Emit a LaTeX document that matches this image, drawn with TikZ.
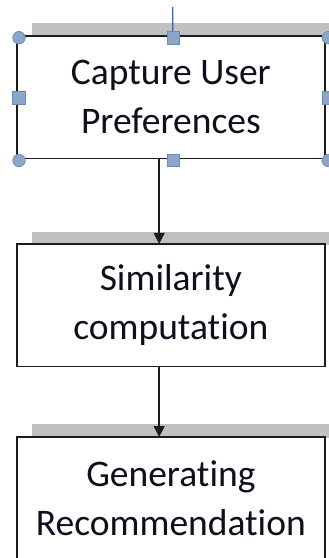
\documentclass[tikz,border=0pt]{standalone}
\usepackage{fontspec}
\setmainfont{Carlito}[Ligatures={NoCommon}]
\usetikzlibrary{arrows.meta}
\definecolor{bargray}{HTML}{C0C0C0}
\definecolor{boxline}{HTML}{1C1C1C}
\definecolor{handlefill}{HTML}{8CA5C8}
\definecolor{handleline}{HTML}{6A8BB8}
\definecolor{selblue}{HTML}{3A62C0}
\definecolor{ink}{HTML}{0E0E1C}
\begin{document}
\begin{tikzpicture}[x=1pt,y=-1pt,
  stepbox/.style={draw=boxline, line width=1.6pt, fill=white,
    minimum width=308.3pt, minimum height=122.6pt, inner sep=0pt, outer sep=0pt,
    align=center, text=ink, font=\fontsize{37.5}{49}\selectfont},
  topbar/.style={fill=bargray},
  flow/.style={draw=boxline, line width=1.4pt, -{Triangle[length=11pt,width=11pt]}},
  sqhandle/.style={draw=handleline, fill=handlefill, line width=0.7pt,
    minimum size=12.5pt, inner sep=0pt, rectangle},
  cirhandle/.style={draw=handleline, fill=handlefill, line width=0.7pt,
    minimum size=12.5pt, inner sep=0pt, circle}]
\useasboundingbox (0,0) rectangle (329,558);

% grey bars behind the top edges of the boxes
\fill[topbar] (32,23) rectangle (340,37);
\fill[topbar] (32,231.5) rectangle (340,245);
\fill[topbar] (32,423.5) rectangle (340,438);

% process boxes
\node[stepbox] (b1) at (170.85,97) {Capture User\\Preferences};
\node[stepbox] (b2) at (170.85,305.2) {Similarity\\computation};
\node[stepbox] (b3) at (170.85,498.3) {Generating\\Recommendation};

% connectors between the steps
\draw[flow] ([xshift=-11.7pt]b1.south) -- ([xshift=-11.7pt]b2.north);
\draw[flow] ([xshift=-11.7pt]b2.south) -- ([xshift=-11.7pt]b3.north);

% selection frame of the first box
\coordinate (rot) at (172.7,7);
\draw[selblue, line width=1.2pt] (rot) -- ([xshift=1.9pt]b1.north);
\node[cirhandle] (h1) at (19,37.7) {};
\node[cirhandle] (h2) at (328.3,37.7) {};
\node[cirhandle] (h3) at (19,160.5) {};
\node[cirhandle] (h4) at (328.3,160.5) {};
\node[sqhandle] (h5) at (173.4,37.7) {};
\node[sqhandle] (h6) at (173.4,160.3) {};
\node[sqhandle] (h7) at (19,97.7) {};
\node[sqhandle] (h8) at (328.3,97.7) {};
\end{tikzpicture}
\end{document}
